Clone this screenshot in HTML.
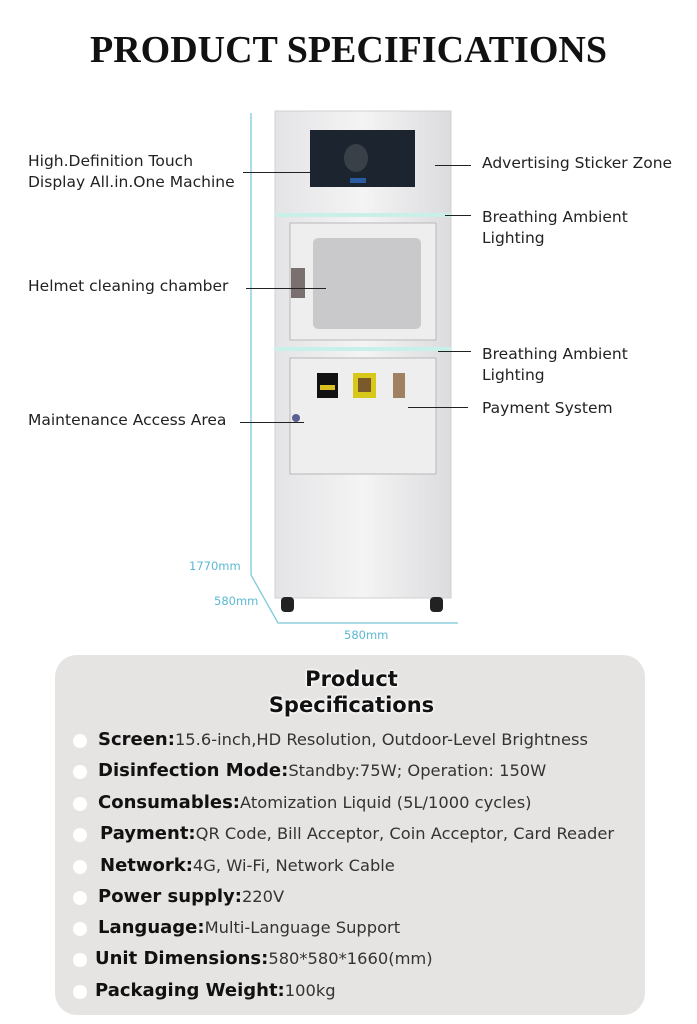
<!DOCTYPE html>
<html><head><style>
body{margin:0;width:697px;height:1024px;background:#fff;position:relative;overflow:hidden;font-family:"DejaVu Sans","Liberation Sans",sans-serif;}
.a{position:absolute}
.lbl{position:absolute;font-size:15.5px;color:#222;line-height:21px;font-family:"DejaVu Sans",sans-serif;white-space:nowrap}
.ln{position:absolute;height:1px;background:#222}
.row{position:absolute;left:0;font-size:16.3px;color:#333;white-space:nowrap;font-family:"DejaVu Sans",sans-serif}
.row b{font-size:18px;color:#111}
.dot{position:absolute;width:14px;height:14px;border-radius:50%;background:#fff;left:73px}
</style></head><body>
<div class="a" style="left:0;width:697px;top:28px;text-align:center;font-family:'Liberation Serif',serif;font-weight:bold;font-size:38px;color:#111;letter-spacing:0px">PRODUCT SPECIFICATIONS</div>

<svg class="a" style="left:0;top:0" width="697" height="650">
<polyline points="251,113 251,575 278,623 458,623" fill="none" stroke="#7cc8dc" stroke-width="1.3"/>
<defs><linearGradient id="g" x1="0" x2="1"><stop offset="0" stop-color="#e4e4e6"/><stop offset=".5" stop-color="#f4f4f5"/><stop offset="1" stop-color="#dcdcde"/></linearGradient></defs>
<rect x="275" y="111" width="176" height="487" fill="url(#g)" stroke="#d0d0d2"/>
<rect x="310" y="130" width="105" height="57" fill="#1c2430"/>
<ellipse cx="356" cy="158" rx="12" ry="14" fill="#3a4048"/>
<rect x="350" y="178" width="16" height="5" fill="#2a5aa0"/>
<rect x="275" y="213" width="176" height="4" fill="#c8efe8"/>
<rect x="290" y="223" width="146" height="117" fill="#eeeeef" stroke="#b8b8ba"/>
<rect x="313" y="238" width="108" height="91" rx="5" fill="#c9c9cb"/>
<rect x="291" y="268" width="14" height="30" fill="#7a7070"/>
<rect x="275" y="347" width="176" height="4" fill="#c8efe8"/>
<rect x="290" y="358" width="146" height="116" fill="#eeeeef" stroke="#b8b8ba"/>
<rect x="317" y="373" width="21" height="25" fill="#111"/><rect x="320" y="385" width="15" height="5" fill="#d8c020"/>
<rect x="353" y="373" width="23" height="25" fill="#d8c81a"/><rect x="358" y="378" width="13" height="14" fill="#7a5a2a"/>
<rect x="393" y="373" width="12" height="25" fill="#a08060"/>
<circle cx="296" cy="418" r="4" fill="#5a6090"/>
<rect x="281" y="597" width="13" height="15" rx="4" fill="#222"/>
<rect x="430" y="597" width="13" height="15" rx="4" fill="#222"/>
<text x="189" y="570" font-family="DejaVu Sans,sans-serif" font-size="11.5" fill="#5bb8d4">1770mm</text>
<text x="214" y="605" font-family="DejaVu Sans,sans-serif" font-size="11.5" fill="#5bb8d4">580mm</text>
<text x="344" y="639" font-family="DejaVu Sans,sans-serif" font-size="11.5" fill="#5bb8d4">580mm</text>
</svg>

<div class="lbl" style="left:28px;top:151px">High.Definition Touch<br>Display All.in.One Machine</div>
<div class="ln" style="left:243px;top:172px;width:67px"></div>
<div class="lbl" style="left:28px;top:276px">Helmet cleaning chamber</div>
<div class="ln" style="left:246px;top:288px;width:80px"></div>
<div class="lbl" style="left:28px;top:410px">Maintenance Access Area</div>
<div class="ln" style="left:240px;top:422px;width:64px"></div>
<div class="lbl" style="left:482px;top:153px">Advertising Sticker Zone</div>
<div class="ln" style="left:435px;top:165px;width:36px"></div>
<div class="lbl" style="left:482px;top:207px">Breathing Ambient<br>Lighting</div>
<div class="ln" style="left:445px;top:215px;width:26px"></div>
<div class="lbl" style="left:482px;top:344px">Breathing Ambient<br>Lighting</div>
<div class="ln" style="left:438px;top:351px;width:33px"></div>
<div class="lbl" style="left:482px;top:398px">Payment System</div>
<div class="ln" style="left:408px;top:407px;width:60px"></div>

<div class="a" style="left:55px;top:655px;width:590px;height:360px;border-radius:22px;background:#e6e4e2"></div>
<div class="a" style="left:0;width:703px;top:666px;text-align:center;font-weight:bold;font-size:21px;line-height:26px;color:#111;text-shadow:0 0 3px #fff,0 0 3px #fff,0 0 2px #fff">Product<br>Specifications</div>

<div class="dot" style="top:734px"></div><div class="row" style="left:98px;top:729px"><b>Screen:</b>15.6-inch,HD Resolution, Outdoor-Level Brightness</div>
<div class="dot" style="top:765px"></div><div class="row" style="left:98px;top:760px"><b>Disinfection Mode:</b>Standby:75W; Operation: 150W</div>
<div class="dot" style="top:797px"></div><div class="row" style="left:98px;top:792px"><b>Consumables:</b>Atomization Liquid (5L/1000 cycles)</div>
<div class="dot" style="top:828px"></div><div class="row" style="left:100px;top:823px"><b>Payment:</b>QR Code, Bill Acceptor, Coin Acceptor, Card Reader</div>
<div class="dot" style="top:860px"></div><div class="row" style="left:100px;top:855px"><b>Network:</b>4G, Wi-Fi, Network Cable</div>
<div class="dot" style="top:891px"></div><div class="row" style="left:98px;top:886px"><b>Power supply:</b>220V</div>
<div class="dot" style="top:922px"></div><div class="row" style="left:98px;top:917px"><b>Language:</b>Multi-Language Support</div>
<div class="dot" style="top:953px"></div><div class="row" style="left:95px;top:948px"><b>Unit Dimensions:</b>580*580*1660(mm)</div>
<div class="dot" style="top:985px"></div><div class="row" style="left:95px;top:980px"><b>Packaging Weight:</b>100kg</div>
</body></html>
